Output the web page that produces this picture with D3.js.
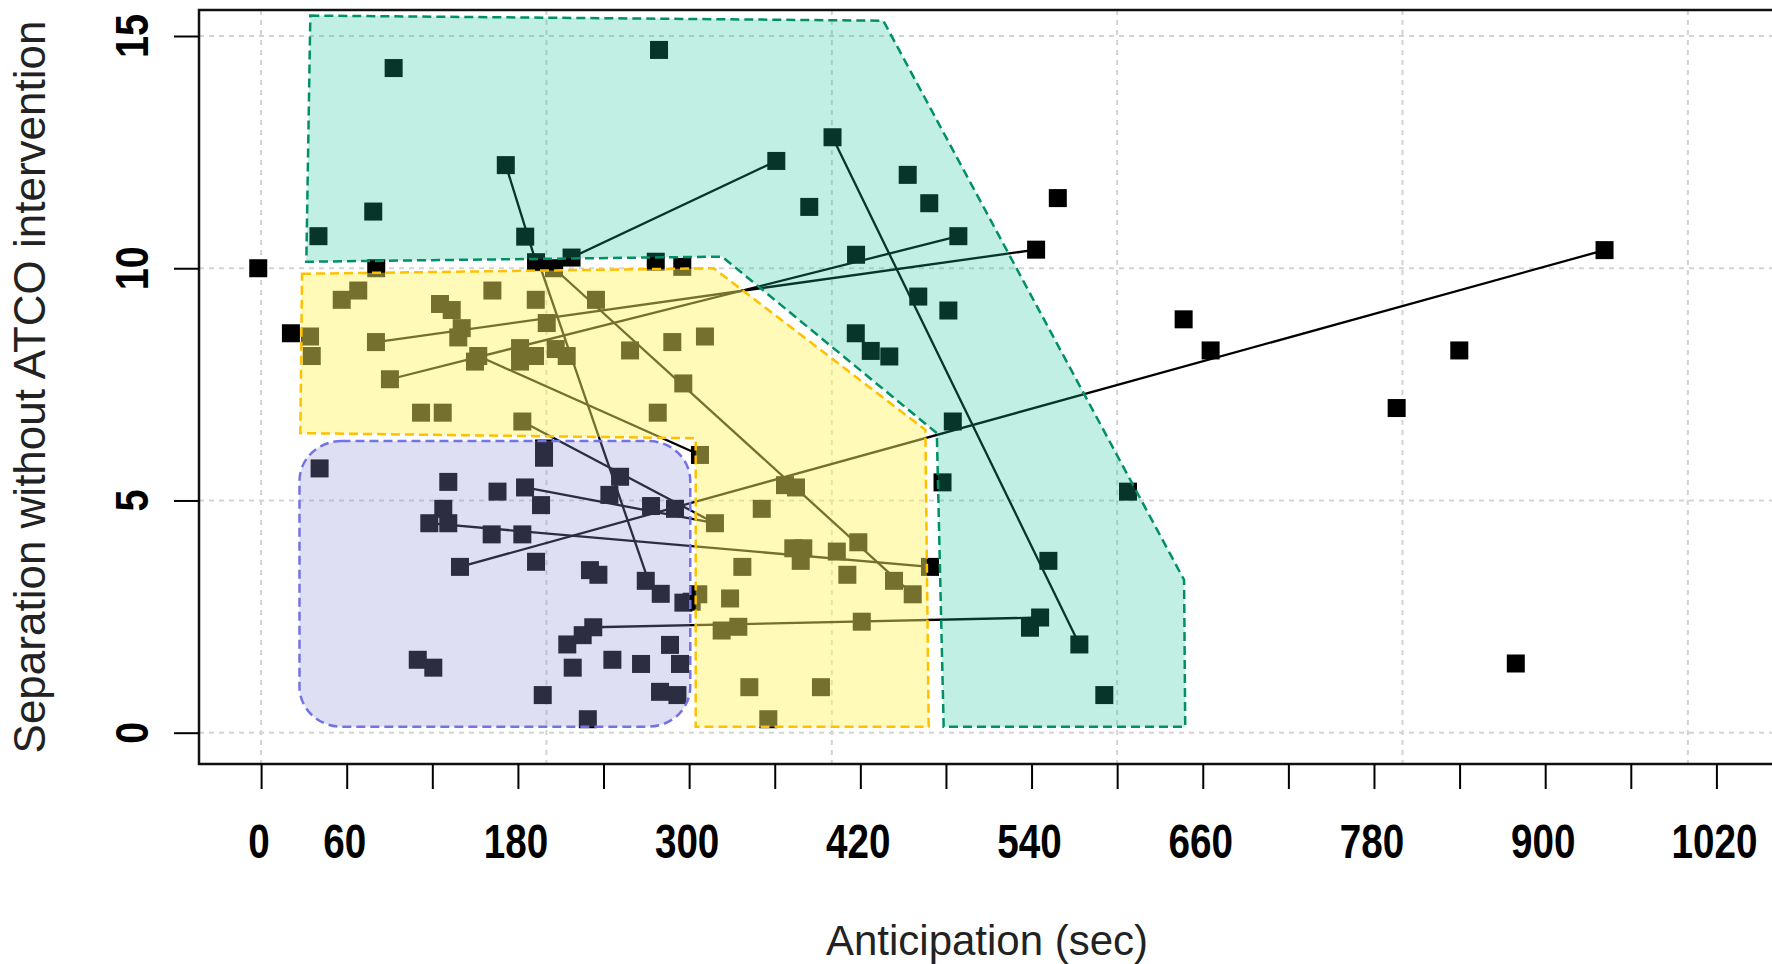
<!DOCTYPE html>
<html><head><meta charset="utf-8">
<script src="https://cdn.jsdelivr.net/npm/d3@7"></script>
<style>body{margin:0;background:#fff} svg{display:block}</style>
</head><body>
<svg id="chart" width="1772" height="964"></svg>
<script>
// ---------- data ----------
const xTicks = d3.range(0, 1021, 60);
const xTickLabels = [0, 60, 180, 300, 420, 540, 660, 780, 900, 1020];
const yTicks = [0, 5, 10, 15];
const xGrid = [0, 200, 400, 600, 800, 1000];
const yGrid = [0, 5, 10, 15];
const xTitle = "Anticipation (sec)";
const yTitle = "Separation without ATCO intervention";

// [anticipation (sec), separation]
const points = [
  [-2,10.0],[20.9,8.60],[80.7,10.0],[276.6,10.14],[295.2,10.03],[192.7,10.13],[205.3,10.0],
  [543.2,10.40],[558.4,11.51],[646.6,8.90],[665.5,8.23],[795.9,6.99],[839.8,8.23],[879.4,1.49],[941.6,10.39],
  [307.6,5.98],[468.8,3.57],[301.8,2.82],
  [92.9,14.31],[278.9,14.70],[171.5,12.22],[78.6,11.22],[40.2,10.69],[185.1,10.68],[217.6,10.23],
  [361.1,12.31],[400.5,12.82],[453.2,12.01],[468.3,11.40],[384.2,11.32],[488.7,10.69],[417.0,10.29],
  [460.6,9.39],[481.7,9.09],[416.8,8.60],[427.3,8.22],[440.3,8.10],[484.8,6.70],[477.6,5.39],[607.6,5.19],
  [551.8,3.70],[546.0,2.48],[538.9,2.26],[573.5,1.90],[591.0,0.81],
  [68.1,9.52],[56.5,9.32],[162.1,9.52],[192.5,9.32],[234.7,9.32],[125.4,9.23],[133.6,9.10],[140.6,8.71],
  [138.2,8.51],[200.2,8.82],[34.3,8.53],[35.5,8.11],[80.5,8.41],[288.2,8.41],[311.1,8.53],[258.6,8.23],
  [181.5,8.28],[192.0,8.11],[181.5,7.99],[206.5,8.26],[214.2,8.11],[152.2,8.11],[149.9,7.99],[90.3,7.61],
  [295.9,7.52],[112.1,6.89],[127.3,6.89],[278.0,6.89],[183.1,6.70],[367.2,5.33],[374.9,5.28],[350.9,4.82],
  [318.1,4.51],[373.0,3.97],[380.0,3.97],[378.2,3.70],[403.5,3.90],[418.6,4.10],[337.3,3.57],[410.9,3.40],
  [443.6,3.27],[456.7,2.98],[328.7,2.89],[322.8,2.20],[334.5,2.28],[421.0,2.39],[342.2,0.98],[392.4,0.98],
  [355.5,0.29],[306.4,2.98],
  [41.0,5.69],[131.2,5.40],[165.7,5.19],[185.0,5.28],[196.2,4.90],[198.3,6.12],[198.3,5.92],[127.7,4.82],
  [117.9,4.51],[131.2,4.51],[161.6,4.27],[183.1,4.27],[139.4,3.57],[192.7,3.68],[230.5,3.50],[236.4,3.40],
  [269.6,3.27],[280.1,2.99],[251.6,5.51],[244.1,5.12],[273.3,4.88],[290.1,4.82],[232.8,2.27],[225.4,2.10],
  [214.6,1.90],[218.4,1.40],[246.2,1.57],[266.3,1.48],[286.6,1.89],[293.6,1.48],[109.8,1.57],[120.7,1.40],
  [197.4,0.81],[279.6,0.88],[291.8,0.81],[229.0,0.29],[296.0,2.80]
];

// segments joining two measurements: [[sec,val],[sec,val]]
const links = [
  [[171.5,12.22],[192.7,10.13]],
  [[217.6,10.23],[361.1,12.31]],
  [[400.5,12.82],[573.5,1.90]],
  [[80.5,8.41],[543.2,10.40]],
  [[90.3,7.61],[488.7,10.69]],
  [[194.5,10.13],[271.5,3.27]],
  [[205.3,10.0],[456.7,2.98]],
  [[117.9,4.51],[468.8,3.57]],
  [[139.4,3.57],[941.6,10.39]],
  [[232.8,2.27],[546.0,2.48]],
  [[185.0,5.28],[318.1,4.51]],
  [[183.1,6.70],[318.1,4.51]],
  [[152.2,8.11],[307.6,5.98]]
];

// zones [sec, val]
const greenZone = [[34.5,15.44],[436.1,15.33],[646.9,3.29],[647.7,0.13],[478.4,0.13],[473.6,6.45],[323.1,10.25],[31.7,10.14]];
const yellowZone = [[28.7,9.88],[317.2,10.0],[465.6,6.52],[467.9,0.13],[304.6,0.13],[304.6,6.34],[27.5,6.45]];
const blueZone = [[26.9,6.28],[300.8,0.13]];

// ---------- drawing ----------
const W = 1772, H = 964;
const plot = {left: 199, top: 10, bottom: 764, right: 1800};
const x = d3.scaleLinear().domain([0, 1020]).range([261.1, 1716.4]);
const y = d3.scaleLinear().domain([0, 15]).range([732.7, 36]);

const svg = d3.select("#chart");
svg.append("defs").append("clipPath").attr("id", "clip")
  .append("rect").attr("x", plot.left).attr("y", plot.top)
  .attr("width", W - plot.left).attr("height", plot.bottom - plot.top);

const g = svg.append("g").attr("clip-path", "url(#clip)");

// grid
g.selectAll(".vg").data(xGrid).join("line")
  .attr("x1", d => x(d)).attr("x2", d => x(d))
  .attr("y1", plot.top).attr("y2", plot.bottom)
  .attr("stroke", "#d3d3d3").attr("stroke-width", 2).attr("stroke-dasharray", "5,5");
g.selectAll(".hg").data(yGrid).join("line")
  .attr("x1", plot.left).attr("x2", W)
  .attr("y1", d => y(d)).attr("y2", d => y(d))
  .attr("stroke", "#d3d3d3").attr("stroke-width", 2).attr("stroke-dasharray", "5,5");

// links
g.selectAll(".lk").data(links).join("line")
  .attr("x1", d => x(d[0][0])).attr("y1", d => y(d[0][1]))
  .attr("x2", d => x(d[1][0])).attr("y2", d => y(d[1][1]))
  .attr("stroke", "#000").attr("stroke-width", 2.3);

// points
const S = 18;
g.selectAll(".pt").data(points).join("rect")
  .attr("x", d => x(d[0]) - S / 2).attr("y", d => y(d[1]) - S / 2)
  .attr("width", S).attr("height", S).attr("fill", "#000");

// zones on top (translucent)
const line = d3.line().x(d => x(d[0])).y(d => y(d[1])).curve(d3.curveLinearClosed);
g.append("path").attr("d", line(greenZone))
  .attr("fill", "rgb(30,195,155)").attr("fill-opacity", 0.27)
  .attr("stroke", "#008f66").attr("stroke-width", 2.5).attr("stroke-dasharray", "9,5");
g.append("path").attr("d", line(yellowZone))
  .attr("fill", "rgb(255,244,100)").attr("fill-opacity", 0.46)
  .attr("stroke", "#ffc000").attr("stroke-width", 2.5).attr("stroke-dasharray", "9,5");
g.append("rect")
  .attr("x", x(blueZone[0][0])).attr("y", y(blueZone[0][1]))
  .attr("width", x(blueZone[1][0]) - x(blueZone[0][0]))
  .attr("height", y(blueZone[1][1]) - y(blueZone[0][1]))
  .attr("rx", 42).attr("ry", 40)
  .attr("fill", "rgb(150,150,220)").attr("fill-opacity", 0.30)
  .attr("stroke", "#7373e6").attr("stroke-width", 2.5).attr("stroke-dasharray", "9,5");

// frame
svg.append("rect").attr("x", plot.left).attr("y", plot.top)
  .attr("width", plot.right - plot.left).attr("height", plot.bottom - plot.top)
  .attr("fill", "none").attr("stroke", "#111").attr("stroke-width", 2.5);

// axes
const xAxis = svg.append("g").attr("transform", `translate(0,${plot.bottom})`)
  .call(d3.axisBottom(x).tickValues(xTicks).tickSize(25).tickFormat(""));
xAxis.select(".domain").remove();
xAxis.selectAll("line").attr("stroke", "#000").attr("stroke-width", 2);

const yAxis = svg.append("g").attr("transform", `translate(${plot.left},0)`)
  .call(d3.axisLeft(y).tickValues(yTicks).tickSize(25).tickFormat(""));
yAxis.select(".domain").remove();
yAxis.selectAll("line").attr("stroke", "#000").attr("stroke-width", 2);

const tickFont = "'Liberation Sans', Arial, sans-serif";
svg.selectAll(".xl").data(xTickLabels).join("text")
  .attr("transform", d => `translate(${x(d) - 2},858) scale(0.84,1.04)`)
  .attr("text-anchor", "middle")
  .attr("font-family", tickFont).attr("font-weight", "bold").attr("font-size", 46)
  .attr("fill", "#000").text(d => d);

svg.selectAll(".yl").data(yTicks).join("text")
  .attr("transform", d => `translate(148,${y(d)}) rotate(-90) scale(0.86,1.02)`)
  .attr("text-anchor", "middle")
  .attr("font-family", tickFont).attr("font-weight", "bold").attr("font-size", 46)
  .attr("fill", "#000").text(d => d);

svg.append("text").attr("x", 987).attr("y", 955)
  .attr("text-anchor", "middle").attr("font-family", tickFont)
  .attr("font-size", 42).attr("fill", "#222").text(xTitle);

svg.append("text").attr("transform", "translate(45,387) rotate(-90)")
  .attr("text-anchor", "middle").attr("font-family", tickFont)
  .attr("font-size", 44).attr("fill", "#222").text(yTitle);
</script>
</body></html>
